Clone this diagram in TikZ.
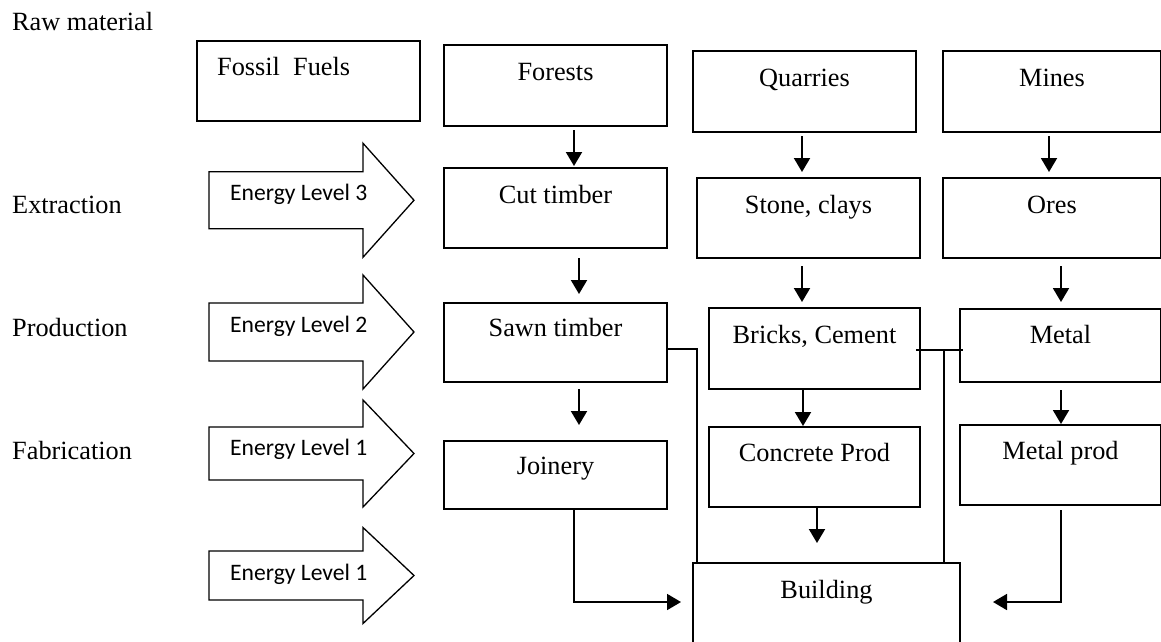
\documentclass[tikz,border=0pt]{standalone}
\usepackage{fontspec}
\setmainfont{Liberation Serif}
\newfontfamily\calibrifont{Carlito}
\usetikzlibrary{arrows.meta,calc}
\newcommand\enarrow[6]{%
  \draw[blk] (209,#2-#3) -- (363,#2-#3) -- (363,#2-#4) -- (414,#2) -- (363,#2+#4) -- (363,#2+#3) -- (209,#2+#3) -- cycle;
  \node[etxt] (#1) at (230,#5) {#6};}
\begin{document}
\begin{tikzpicture}[x=1pt,y=-1pt,
  every node/.style={font=\fontsize{26.3}{30}\selectfont},
  box/.style={draw, line width=2pt, inner sep=0pt, anchor=north west},
  lbl/.style={anchor=base, yshift=-36pt, inner sep=0pt, font=\fontsize{26.3}{30}\selectfont},
  txt/.style={anchor=base west, inner sep=0pt},
  etxt/.style={anchor=base west, inner sep=0pt, font=\calibrifont\fontsize{23.6}{28}\selectfont},
  blk/.style={draw, line width=1.3pt, line join=miter},
  ln/.style={draw, line width=2pt},
  arr/.style={draw, line width=2pt, -{Triangle[length=14pt,width=16pt]}}]
\useasboundingbox (0,0) rectangle (1161,641);

% row labels
\node[txt] (lraw) at (12,30) {Raw material};
\node[txt] (lext) at (12,213) {Extraction};
\node[txt] (lpro) at (12,336) {Production};
\node[txt] (lfab) at (12,459) {Fabrication};

% energy arrows
\enarrow{e3}{200.25}{28.5}{57}{200}{Energy Level 3}
\enarrow{e2}{332}{29}{57}{332}{Energy Level 2}
\enarrow{e1a}{453.5}{26.5}{53.5}{455}{Energy Level 1}
\enarrow{e1b}{575.5}{24.5}{48}{580}{Energy Level 1}

% raw materials
\node[box, minimum width=223pt, minimum height=80pt] (fossil) at (196,40) {};
\node[txt] (fossiltxt) at (217,75) {Fossil\ \ Fuels};
\node[box, minimum width=223pt, minimum height=81pt, label={[lbl]north:Forests}] (forests) at (443,44) {};
\node[box, minimum width=223pt, minimum height=81pt, label={[lbl]north:Quarries}] (quarries) at (692,50) {};
\node[box, minimum width=218pt, minimum height=81pt, label={[lbl]north:Mines}] (mines) at (942,50) {};

% extraction
\node[box, minimum width=223pt, minimum height=80pt, label={[lbl]north:Cut timber}] (cut) at (443,167) {};
\node[box, minimum width=223pt, minimum height=80pt, label={[lbl]north:{Stone, clays}}] (stone) at (696,177) {};
\node[box, minimum width=218pt, minimum height=80pt, label={[lbl]north:Ores}] (ores) at (942,177) {};

% production
\node[box, minimum width=223pt, minimum height=79pt, label={[lbl, yshift=2pt]north:Sawn timber}] (sawn) at (443,302) {};
\node[box, minimum width=211pt, minimum height=81pt, label={[lbl]north:{Bricks, Cement}}] (bricks) at (708,307) {};
\node[box, minimum width=201pt, minimum height=73pt, label={[lbl, yshift=1pt]north:Metal}] (metal) at (959,308) {};

% fabrication
\node[box, minimum width=223pt, minimum height=68pt, label={[lbl, yshift=2pt]north:Joinery}] (joinery) at (443,440) {};
\node[box, minimum width=211pt, minimum height=80pt, label={[lbl, yshift=1pt]north:Concrete Prod}] (concrete) at (708,426) {};
\node[box, minimum width=201pt, minimum height=80pt, label={[lbl, yshift=1pt]north:Metal prod}] (metalprod) at (959,424) {};

% building
\node[box, minimum width=267pt, minimum height=100pt, label={[lbl]north:Building}] (building) at (692,562) {};

% vertical flow arrows
\draw[arr] ([xshift=18.5pt,yshift=-3pt]forests.south) -- ([xshift=18.5pt,yshift=1pt]cut.north);
\draw[arr] ([xshift=23.5pt,yshift=-9pt]cut.south) -- ([xshift=23.5pt,yshift=8pt]sawn.north);
\draw[arr] ([xshift=-2.5pt,yshift=-3pt]quarries.south) -- ([xshift=-6.5pt,yshift=5pt]stone.north);
\draw[arr] ([xshift=-3pt,yshift=-3pt]mines.south) -- ([xshift=-3pt,yshift=5pt]ores.north);
\draw[arr] ([xshift=-6.5pt,yshift=-7pt]stone.south) -- ([xshift=-12.5pt,yshift=5pt]bricks.north);
\draw[arr] ([xshift=9pt,yshift=-7pt]ores.south) -- ([xshift=0.5pt,yshift=6pt]metal.north);
\draw[arr] ([xshift=23.5pt,yshift=-6pt]sawn.south) -- ([xshift=23.5pt,yshift=15pt]joinery.north);
\draw[arr] ([xshift=-11.5pt]bricks.south) -- ([xshift=-11.5pt]concrete.north);
\draw[arr] ([xshift=0.5pt,yshift=-7pt]metal.south) -- ([xshift=0.5pt]metalprod.north);
\draw[arr] ([xshift=2.5pt]concrete.south) -- ([xshift=-9.5pt,yshift=19pt]building.north);

% connectors to building
\draw[arr, line width=1.8pt] ([xshift=18.5pt]joinery.south) |- ([shift={(-11pt,-40pt)}]building.north west);
\draw[arr, line width=1.8pt] ([xshift=0.5pt,yshift=-4pt]metalprod.south) |- ([shift={(32pt,-40pt)}]building.north east);
\draw[ln] ([yshift=-6.5pt]sawn.east) -| ([xshift=5pt]building.north west);
\draw[ln] ([xshift=-5pt,yshift=-1.5pt]bricks.east) -- ([xshift=4pt,yshift=-1.5pt]bricks.east -| metal.west);
\draw[ln] ([xshift=23pt,yshift=-1.5pt]bricks.east) -- ([xshift=23pt]bricks.east |- building.north);
\end{tikzpicture}
\end{document}
